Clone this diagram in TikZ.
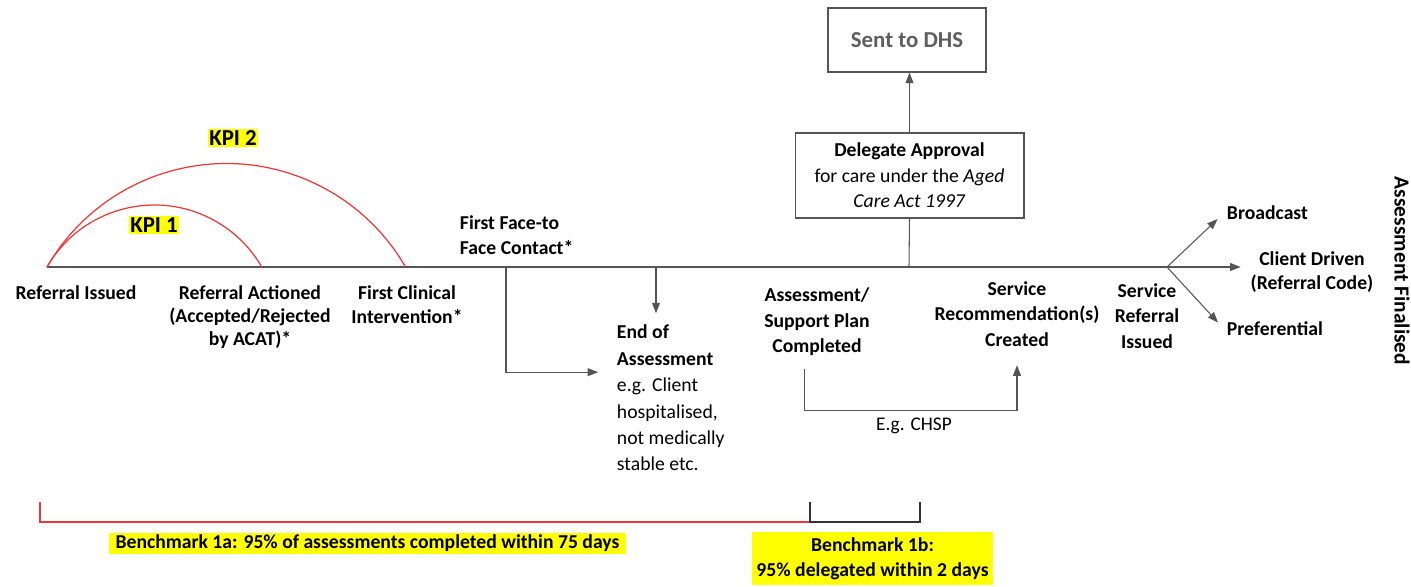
\documentclass[tikz,border=0pt]{standalone}
\usepackage{fontspec}
\setmainfont{Carlito}
\usepackage{tikz}
\usetikzlibrary{arrows.meta,calc}
\definecolor{kpired}{RGB}{236,56,56}
\definecolor{linegray}{RGB}{85,85,85}
\definecolor{hilite}{RGB}{255,255,0}
\definecolor{dhsgray}{RGB}{95,95,95}

\begin{document}
\begin{tikzpicture}[x=0.02cm,y=-0.02cm,font=\fontsize{11}{14}\selectfont]
\tikzstyle{line} = [draw=linegray, line width=0.6pt]
\tikzstyle{arr} = [line, -{Triangle[length=6pt,width=4.5pt]}]
\tikzstyle{kpi} = [draw=kpired, line width=0.7pt]
\tikzstyle{lbl} = [align=center, font=\bfseries\fontsize{11.2}{14}\selectfont, inner sep=1.5pt]
\tikzstyle{hl} = [fill=hilite, font=\bfseries\fontsize{11.2}{14}\selectfont, inner sep=1pt]
\tikzstyle{box} = [draw=linegray, line width=0.6pt, align=center]
\useasboundingbox (0,0) rectangle (1411,586);

\coordinate (start) at (47,267);
\coordinate (split) at (1167,267);
\coordinate (facedrop) at (506,267);
\coordinate (enddrop) at (656,267);
\coordinate (approve) at (909,267);

\draw[line] (start) -- (split);
\draw[kpi] (start) arc[start angle=210, end angle=330, radius=124];
\draw[kpi] (start) arc[start angle=210, end angle=330, radius=207];

\node[hl, font=\bfseries\fontsize{13}{15}\selectfont] (kpione) at (154,225) {KPI 1};
\node[hl, font=\bfseries\fontsize{13}{15}\selectfont] (kpitwo) at (233,138) {KPI 2};

\node[lbl] (issued) at (76,293) {Referral Issued};
\node[lbl, font=\bfseries\fontsize{11.2}{13.3}\selectfont] (actioned) at (250,317) {Referral Actioned\\(Accepted/Rejected\\by ACAT)*};
\node[lbl, font=\bfseries\fontsize{11.2}{13.5}\selectfont] (clinical) at (407,305) {First Clinical\\Intervention*};
\node[lbl, align=left, anchor=west] (face) at (457,235) {First Face-to\\Face Contact*};
\node[anchor=west, align=left, inner sep=1.5pt, font=\fontsize{11.2}{15}\selectfont] (endassess) at (614,398) {\textbf{End of}\\\textbf{Assessment}\\e.g. Client\\hospitalised,\\not medically\\stable etc.};
\node[lbl, font=\bfseries\fontsize{11.2}{14.5}\selectfont] (plan) at (817,322) {Assessment/\\Support Plan\\Completed};
\node[lbl, font=\bfseries\fontsize{11.2}{14.5}\selectfont] (recomm) at (1017,314) {Service\\Recommendation(s)\\Created};
\node[lbl, font=\bfseries\fontsize{11.2}{14.5}\selectfont] (servref) at (1147,316) {Service\\Referral\\Issued};

\node[box, minimum width=4.58cm, minimum height=1.7cm, font=\fontsize{11.2}{14.5}\selectfont] (delegate) at (909.5,175.5) {\textbf{Delegate Approval}\\for care under the \textit{Aged}\\\textit{Care Act 1997}};
\node[box, minimum width=3.16cm, minimum height=1.28cm, text=dhsgray, font=\bfseries\fontsize{13}{15}\selectfont] (dhs) at (907,40) {Sent to DHS};

\node[lbl, anchor=west] (broadcast) at (1224,213) {Broadcast};
\node[lbl] (clientdrv) at (1312,272) {Client Driven\\(Referral Code)};
\node[lbl, anchor=west] (pref) at (1224,329) {Preferential};
\node[lbl, rotate=-90, font=\bfseries\fontsize{12.2}{14}\selectfont] (finalised) at (1402,271) {Assessment Finalised};
\node[inner sep=1pt] (chsp) at (914,426) {E.g. CHSP};

\node[hl, inner xsep=4pt] (benchA) at (367.5,543.5) {Benchmark 1a: 95\% of assessments completed within 75 days};
\node[hl, align=center, minimum width=4.82cm, minimum height=1.06cm] (benchB) at (872.5,558.5) {Benchmark 1b:\\95\% delegated within 2 days};

\draw[arr] (facedrop) |- ([xshift=-9pt,yshift=14.7pt]endassess.west);
\draw[arr, shorten >=5pt] (enddrop) -- (enddrop |- endassess.north);
\draw[line] (approve) -- (delegate.south);
\draw[arr] (delegate.north) -- (delegate.north |- dhs.south);
\draw[arr] ([xshift=-7pt,yshift=-6pt]plan.south) -- ++(0,41) -| ([yshift=-9pt]recomm.south);

\draw[arr, shorten >=5pt] (split) -- (broadcast.west);
\draw[arr, shorten >=5pt] (split) -- (pref.west);
\draw[arr, shorten >=4pt] (split) -- (split -| clientdrv.west);

\coordinate (ba) at (40,502);
\coordinate (bj) at (810,522);
\coordinate (bb) at (920,502);
\draw[kpired, line width=0.8pt] (ba) |- (bj);
\draw[black!80, line width=0.7pt] (bj |- ba) -- (bj) -| (bb);
\end{tikzpicture}
\end{document}
